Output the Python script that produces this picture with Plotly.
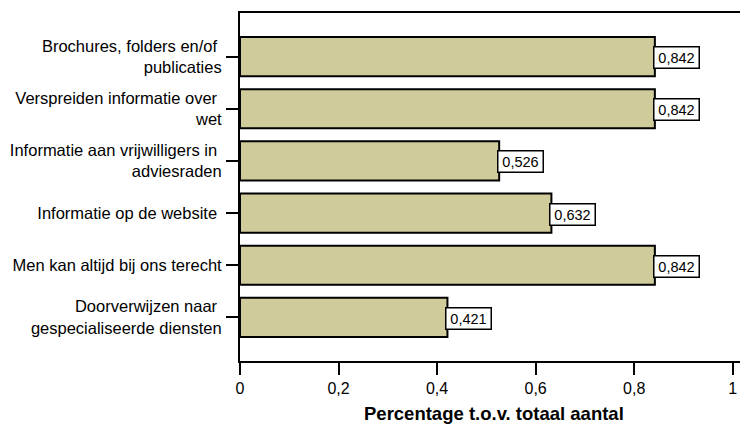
import plotly.graph_objects as go

categories = [
    "Brochures, folders en/of <br>publicaties",
    "Verspreiden informatie over <br>wet",
    "Informatie aan vrijwilligers in <br>adviesraden",
    "Informatie op de website ",
    "Men kan altijd bij ons terecht",
    "Doorverwijzen naar <br>gespecialiseerde diensten",
]
values = [0.842, 0.842, 0.526, 0.632, 0.842, 0.421]
value_labels = ["0,842", "0,842", "0,526", "0,632", "0,842", "0,421"]
x_title = "Percentage t.o.v. totaal aantal"

FONT = "Liberation Sans, Arial, sans-serif"

fig = go.Figure()
fig.add_trace(go.Bar(
    y=categories, x=values, orientation="h",
    width=0.75,
    marker=dict(color="rgb(207,203,155)", line=dict(color="black", width=2)),
    hoverinfo="skip",
))

for cat, v, lab in zip(categories, values, value_labels):
    fig.add_annotation(
        x=v, y=cat, xref="x", yref="y", text=lab, showarrow=False,
        xanchor="left", yanchor="middle", xshift=-2, yshift=-1,
        font=dict(family=FONT, size=14.5, color="black"),
        bgcolor="white", bordercolor="black", borderwidth=1.5, borderpad=1,
        width=42, height=18, align="center",
    )

fig.add_annotation(
    x=0.5, y=0, xref="paper", yref="paper", text="<b>" + x_title + "</b>",
    showarrow=False, xanchor="center", yanchor="middle", yshift=-52,
    font=dict(family=FONT, size=18.5, color="black"),
)

# the page body has an 8px default margin; size the figure to fill the rest
fig.update_layout(
    width=740, height=416,
    margin=dict(l=232, r=0, t=5, b=63),
    paper_bgcolor="white", plot_bgcolor="white",
    separators=",.",
    showlegend=False,
    font=dict(family=FONT, color="black"),
)
fig.update_xaxes(
    range=[0, 1.031], dtick=0.2, tick0=0,
    automargin=False,
    showgrid=False, zeroline=False,
    showline=True, linecolor="black", linewidth=2, mirror=True,
    ticks="outside", ticklen=12, tickwidth=2, tickcolor="black",
    tickfont=dict(family=FONT, size=16, color="black"),
)
fig.update_yaxes(
    type="category", categoryorder="array", categoryarray=categories,
    range=[5.835, -0.835],
    automargin=False,
    showgrid=False, zeroline=False,
    showline=True, linecolor="black", linewidth=2,
    ticks="outside", ticklen=12, tickwidth=2, tickcolor="black",
    tickfont=dict(family=FONT, size=16.5, color="black"),
    ticklabelstandoff=1,
)

fig.write_html("out.html")
